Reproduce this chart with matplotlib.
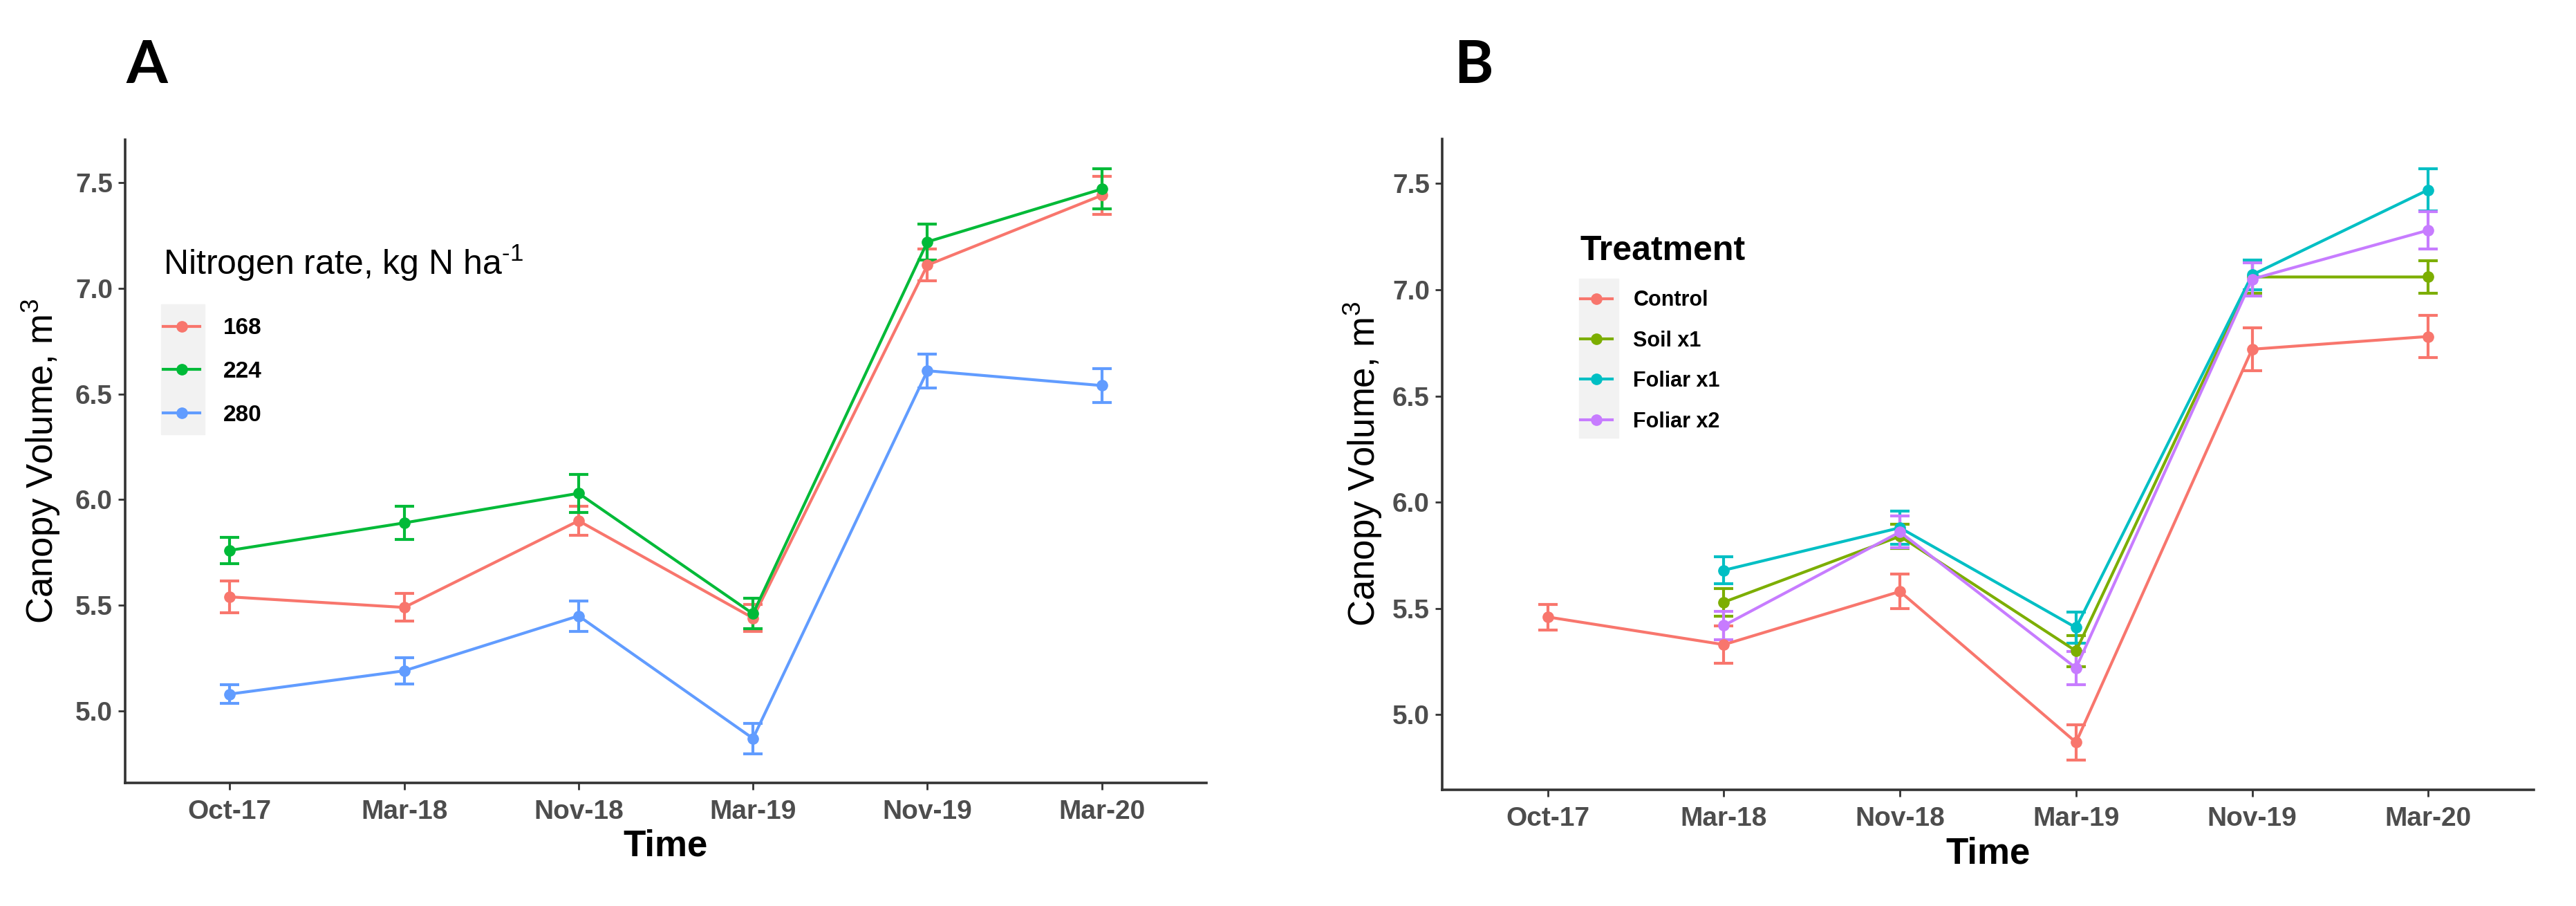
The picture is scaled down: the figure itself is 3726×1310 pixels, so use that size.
import numpy as np
import matplotlib
matplotlib.use("Agg")
import matplotlib.pyplot as plt
from matplotlib.patches import Rectangle

# ---------------------------------------------------------------
# data (mean canopy volume, error bar half-width)
# ---------------------------------------------------------------
times = ["Oct-17", "Mar-18", "Nov-18", "Mar-19", "Nov-19", "Mar-20"]

# panel A : nitrogen rate
n_rates = ["168", "224", "280"]
n_colors = ["#F8766D", "#00BA38", "#619CFF"]
n_mean = [
    [5.54, 5.49, 5.90, 5.44, 7.11, 7.44],
    [5.76, 5.89, 6.03, 5.46, 7.22, 7.47],
    [5.08, 5.19, 5.45, 4.87, 6.61, 6.54],
]
n_err = [
    [0.075, 0.065, 0.070, 0.065, 0.075, 0.090],
    [0.063, 0.078, 0.090, 0.072, 0.085, 0.095],
    [0.045, 0.063, 0.072, 0.072, 0.080, 0.080],
]

# panel B : treatment (Control is the only one measured at Oct-17)
treatments = ["Control", "Soil x1", "Foliar x1", "Foliar x2"]
t_colors = ["#F8766D", "#7CAE00", "#00BFC4", "#C77CFF"]
t_start = [0, 1, 1, 1]
t_mean = [
    [5.46, 5.33, 5.58, 4.87, 6.72, 6.78],
    [5.53, 5.84, 5.30, 7.06, 7.06],
    [5.68, 5.88, 5.41, 7.07, 7.47],
    [5.42, 5.86, 5.22, 7.05, 7.28],
]
t_err = [
    [0.060, 0.088, 0.082, 0.084, 0.100, 0.098],
    [0.065, 0.058, 0.073, 0.078, 0.078],
    [0.064, 0.079, 0.072, 0.070, 0.100],
    [0.068, 0.075, 0.079, 0.078, 0.088],
]

W, H = 3726, 1310
NARROW = ["Liberation Sans Narrow", "Liberation Sans", "DejaVu Sans"]
REG = ["Liberation Sans", "DejaVu Sans"]

plt.rcParams["mathtext.fontset"] = "custom"
plt.rcParams["mathtext.rm"] = "Liberation Sans"

fig = plt.figure(figsize=(W / 100, H / 100), dpi=100)


def px_axes(x0, y0, x1, y1):
    # axes box given in pixel coords of the reference (y from top)
    return fig.add_axes([x0 / W, 1 - y1 / H, (x1 - x0) / W, (y1 - y0) / H])


def style_axes(ax, lo, hi):
    x = np.arange(1, len(times) + 1)
    ax.set_xlim(0.4, len(times) + 0.6)
    pad = (hi - lo) * 0.05
    ax.set_ylim(lo - pad, hi + pad)
    ax.set_xticks(x)
    ax.set_xticklabels(times)
    ax.set_yticks([5.0, 5.5, 6.0, 6.5, 7.0, 7.5])
    ax.set_yticklabels(["5.0", "5.5", "6.0", "6.5", "7.0", "7.5"])
    for s in ["top", "right"]:
        ax.spines[s].set_visible(False)
    for s in ["left", "bottom"]:
        ax.spines[s].set_linewidth(2.6)
        ax.spines[s].set_color("#333333")
    ax.tick_params(axis="both", length=7, width=2, color="#333333",
                   labelcolor="#4D4D4D", labelsize=28)
    ax.tick_params(axis="x", pad=10)
    ax.tick_params(axis="y", pad=6)
    for lab in ax.get_xticklabels() + ax.get_yticklabels():
        lab.set_family(NARROW)
        lab.set_fontweight("bold")
    ax.set_xlabel("Time", fontsize=38, fontweight="bold", family=REG)
    ax.set_ylabel(r"Canopy Volume, m$^{\mathregular{3}}$", fontsize=38, family=REG)


def draw_series(ax, xs, ys, es, color):
    cont = ax.errorbar(xs, ys, yerr=es, fmt="-o", color=color, lw=3,
                       ms=11, elinewidth=3, capsize=10, capthick=3)
    return cont[0]


# ---------------- panel A ----------------
axA = px_axes(181, 202, 1745, 1132)
handlesA = []
lo = min(m - e for ms_, es_ in zip(n_mean, n_err) for m, e in zip(ms_, es_))
hi = max(m + e for ms_, es_ in zip(n_mean, n_err) for m, e in zip(ms_, es_))
for i in range(len(n_rates)):
    xs = np.arange(1, len(times) + 1)
    handlesA.append(draw_series(axA, xs, n_mean[i], n_err[i], n_colors[i]))
style_axes(axA, lo, hi)
axA.xaxis.set_label_coords(0.5, -0.072)
axA.yaxis.set_label_coords(-0.058, 0.5)

legA = axA.legend(handlesA, n_rates, loc="upper left",
                  bbox_to_anchor=(236 / W, 1 - 352 / H), bbox_transform=fig.transFigure,
                  frameon=False, borderpad=0, borderaxespad=0,
                  handlelength=1.6, handletextpad=1.0, labelspacing=0.95,
                  alignment="left",
                  title=r"Nitrogen rate, kg N ha$^{\text{-1}}$",
                  title_fontproperties={"family": REG, "size": 36},
                  prop={"family": NARROW, "weight": "bold", "size": 24})
legA._legend_box.sep = 36
axA.add_patch(Rectangle((233 / W, 1 - 628 / H), 63 / W, 188 / H,
                        transform=fig.transFigure, color="#F2F2F2", zorder=4,
                        clip_on=False))

# ---------------- panel B ----------------
axB = px_axes(2086, 201, 3665, 1142)
handlesB = []
allv = [(m - e, m + e) for ms_, es_ in zip(t_mean, t_err) for m, e in zip(ms_, es_)]
lo = min(a for a, b in allv)
hi = max(b for a, b in allv)
for i in range(len(treatments)):
    xs = np.arange(1, len(t_mean[i]) + 1) + t_start[i]
    handlesB.append(draw_series(axB, xs, t_mean[i], t_err[i], t_colors[i]))
style_axes(axB, lo, hi)
axB.xaxis.set_label_coords(0.5, -0.072)
axB.yaxis.set_label_coords(-0.053, 0.5)

legB = axB.legend(handlesB, treatments, loc="upper left",
                  bbox_to_anchor=(2286 / W, 1 - 340 / H), bbox_transform=fig.transFigure,
                  frameon=False, borderpad=0, borderaxespad=0,
                  handlelength=1.5, handletextpad=1.0, labelspacing=0.93,
                  alignment="left", title="Treatment",
                  title_fontproperties={"family": REG, "size": 36, "weight": "bold"},
                  prop={"family": NARROW, "weight": "bold", "size": 22})
legB._legend_box.sep = 24
axB.add_patch(Rectangle((2284 / W, 1 - 633 / H), 57 / W, 230 / H,
                        transform=fig.transFigure, color="#F2F2F2", zorder=4,
                        clip_on=False))

# panel letters
fig.text(182 / W, 1 - 120 / H, "A", fontsize=62, fontweight="bold",
         family=["Lato", "DejaVu Sans"], va="baseline")
fig.text(2103 / W, 1 - 120 / H, "B", fontsize=62, fontweight="bold",
         family=["Lato", "DejaVu Sans"], va="baseline")

fig.savefig("out.png", dpi=100, facecolor="white")
